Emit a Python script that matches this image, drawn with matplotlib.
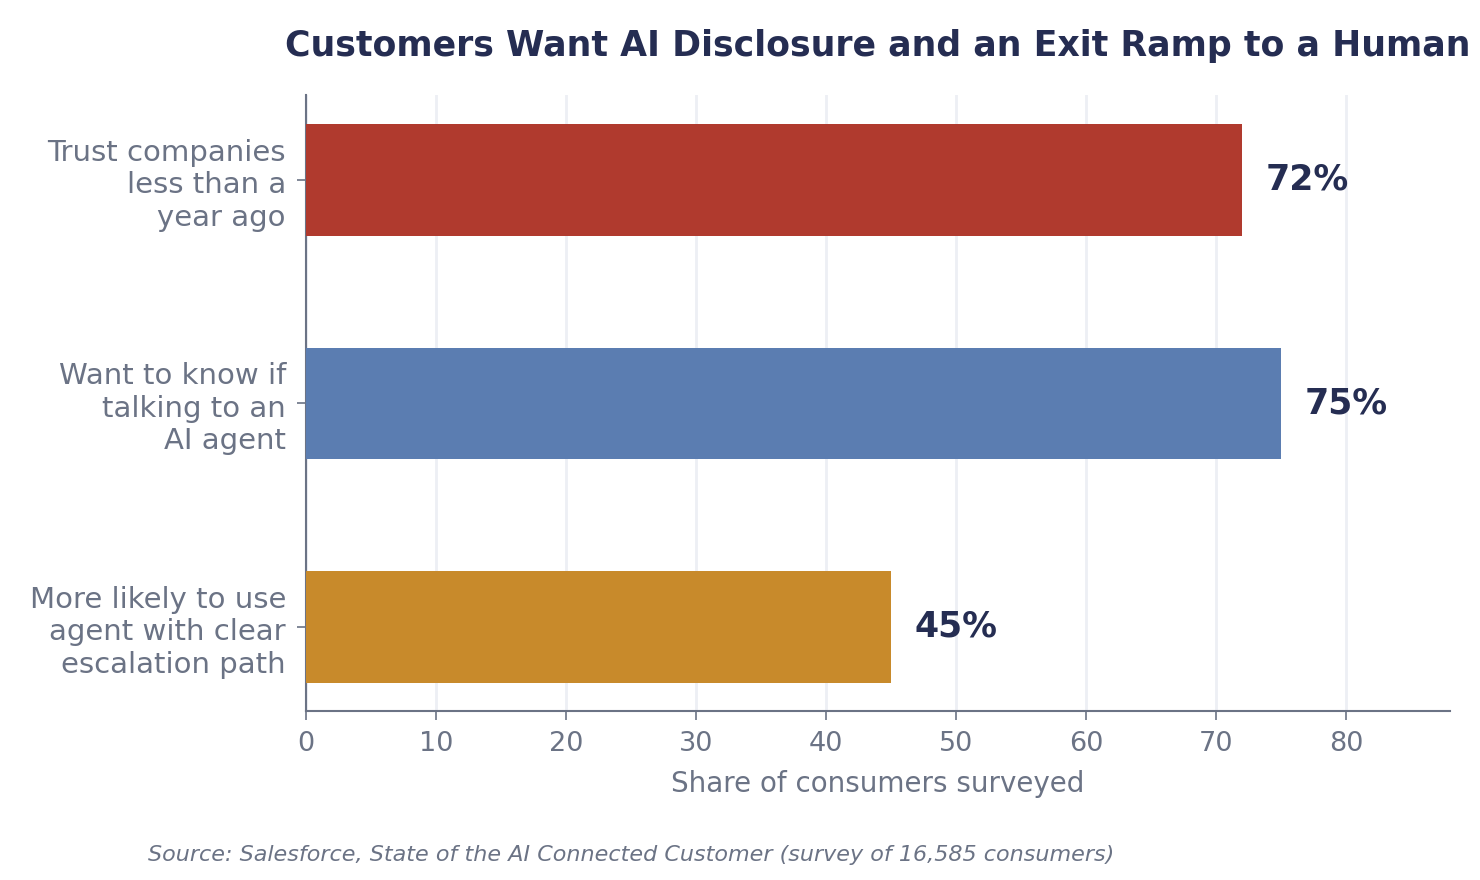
import matplotlib
matplotlib.use("Agg")
import matplotlib.pyplot as plt

categories = ["Trust companies\nless than a\nyear ago",
              "Want to know if\ntalking to an\nAI agent",
              "More likely to use\nagent with clear\nescalation path"]
values = [72, 75, 45]
colors = ["#B03A2E", "#5B7DB1", "#C88A2B"]
xticks = [0, 10, 20, 30, 40, 50, 60, 70, 80]

navy = "#252D52"
gray = "#6B7385"

plt.rcParams['font.family'] = ['DejaVu Sans']
fig = plt.figure(figsize=(14.8, 8.8), dpi=100)
ax = fig.add_axes([0.2068, 0.192, 0.7729, 0.700])

y = list(range(len(categories)))
ax.barh(y, values, height=0.5, color=colors, zorder=3)
for yi, v in zip(y, values):
    ax.text(v + 1.8, yi, f"{v}%", va="center", ha="left", fontsize=25,
            fontweight="bold", color=navy, zorder=4)

ax.set_xlim(0, 88)
ax.set_ylim(2.376, -0.38)
ax.set_yticks(y)
ax.set_yticklabels(categories, fontsize=21, color=gray)
ax.set_xticks(xticks)
ax.set_xticklabels([str(t) for t in xticks], fontsize=19.5, color=gray)
ax.tick_params(axis="both", colors=gray, length=6.5, width=1.2)
ax.tick_params(axis="x", pad=8)
ax.tick_params(axis="y", pad=8)
ax.grid(axis="x", color="#EDEFF4", linewidth=2, zorder=0)
ax.set_axisbelow(True)
for s in ["top", "right"]:
    ax.spines[s].set_visible(False)
for s in ["left", "bottom"]:
    ax.spines[s].set_color(gray)
    ax.spines[s].set_linewidth(1.5)

ax.set_xlabel("Share of consumers surveyed", fontsize=20, color=gray, labelpad=9)
ax.set_title("Customers Want AI Disclosure and an Exit Ramp to a Human",
             fontsize=25, fontweight="bold", color=navy, pad=28)

fig.text(148 / 1480, 1 - 855 / 880,
         "Source: Salesforce, State of the AI Connected Customer (survey of 16,585 consumers)",
         fontsize=16, style="italic", color=gray, ha="left", va="center")

fig.savefig("out.png", dpi=100)
